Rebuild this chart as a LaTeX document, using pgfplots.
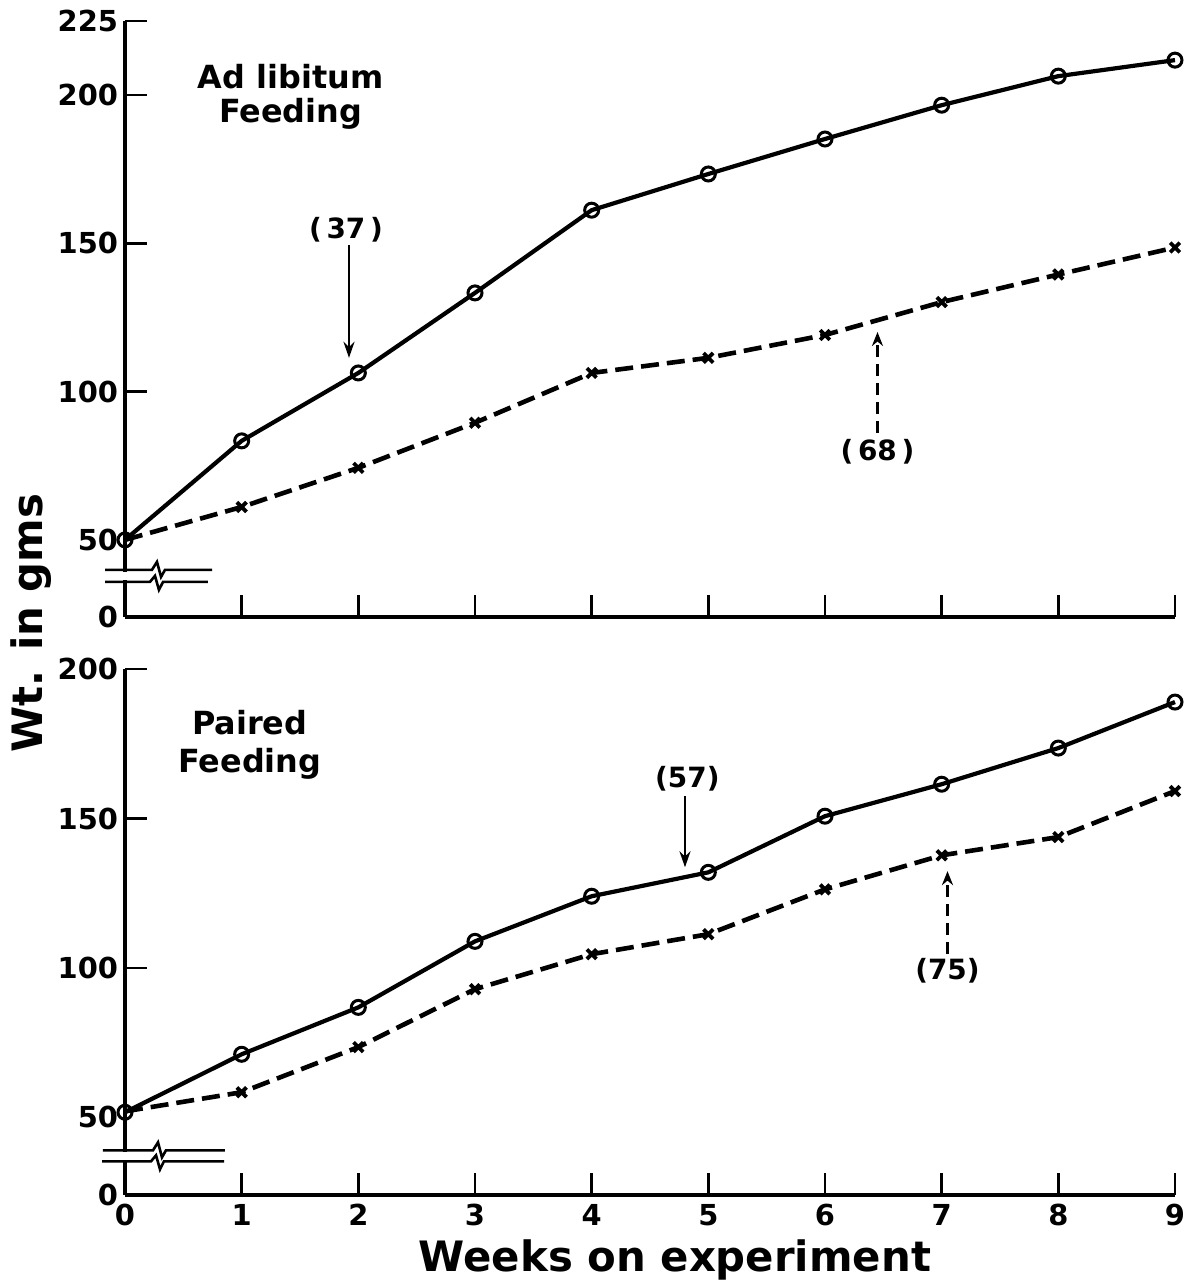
\documentclass[border=0pt]{standalone}
\usepackage{fontspec}
\setmainfont{DejaVu Sans}
\usepackage{pgfplots}
\pgfplotsset{compat=1.18}
\usetikzlibrary{arrows.meta}

\pgfplotsset{
  panel/.style={
    scale only axis, width=525bp, xmin=0, xmax=9,
    axis lines*=left,
    axis line style={line width=2bp},
    tick align=inside, major tick length=11bp,
    tick style={line width=1.3bp, black},
    every tick label/.append style={font=\bfseries\fontsize{14.5}{16}\selectfont},
    /pgf/number format/assume math mode=true,
    extra y tick style={major tick length=0pt},
    clip=false,
  },
  fed/.style={black, line width=2.1bp, mark=o, mark size=3.5bp,
    mark options={fill=white, line width=1.5bp, solid}},
  res/.style={black, line width=2.3bp, dash pattern=on 9bp off 4bp,
    mark=x, mark size=3.4bp, mark indices={2,...,10},
    mark options={line width=1.9bp, solid}},
}
\tikzset{brk/.style={line width=1.3bp}}
\newcommand{\lbl}{\bfseries\fontsize{14}{16}\selectfont}

\begin{document}
\begin{tikzpicture}
\path[use as bounding box] (-62.5bp,-43.5bp) rectangle (535bp,597.5bp);

% Ad libitum
\begin{axis}[panel, at={(0,289bp)}, anchor=south west,
  height=298bp, ymin=24, ymax=225,
  xtick={1,...,9}, xticklabels={,,,,,,,,,},
  ytick={100,150,200,225},
  extra y ticks={24,50}, extra y tick labels={0,50}]
\addplot[res] coordinates {(0,50) (1,61.1) (2,74.3) (3,89.5) (4,106.3)
  (5,111.4) (6,119.1) (7,130.2) (8,139.5) (9,148.6)};
\addplot[fed] coordinates {(0,50) (1,83.4) (2,106.3) (3,133.3) (4,161.2)
  (5,173.4) (6,185.2) (7,196.6) (8,206.4) (9,211.8)};
% axis break
\fill[white] (axis cs:-0.04,36.6) rectangle (axis cs:0.04,39.1);
\draw[brk] (axis cs:-0.171,39.89) -- (axis cs:0.231,39.89) -- (axis cs:0.274,42.59)
  -- (axis cs:0.309,37.53) -- (axis cs:0.343,39.89) -- (axis cs:0.746,39.89);
\draw[brk] (axis cs:-0.171,35.84) -- (axis cs:0.214,35.84) -- (axis cs:0.257,37.87)
  -- (axis cs:0.291,33.15) -- (axis cs:0.326,35.84) -- (axis cs:0.711,35.84);
\node[font=\bfseries\fontsize{16}{17}\selectfont, align=center]
  at (axis cs:1.42,199.3) {Ad libitum\\Feeding};
\node[font=\lbl] at (axis cs:1.894,154.5) {(\,37\,)};
\draw[line width=1.3bp, -{Stealth[length=8bp,width=5.5bp]}]
  (axis cs:1.92,149.4) -- (axis cs:1.92,111.4);
\node[font=\lbl] at (axis cs:6.45,79.8) {(\,68\,)};
\draw[line width=1.3bp, dash pattern=on 6bp off 3.5bp, -{Stealth[length=7bp,width=5.5bp]}]
  (axis cs:6.45,86) -- (axis cs:6.45,120.1);
\end{axis}

% Paired
\begin{axis}[panel, at={(0,0)}, anchor=south west,
  height=262.9bp, ymin=24, ymax=200,
  xtick={0,...,9},
  xticklabel style={yshift=-1bp},
  ytick={100,150,200},
  extra y ticks={24,50}, extra y tick labels={0,50}]
\addplot[res] coordinates {(0,52) (1,58.4) (2,73.5) (3,92.9) (4,104.6)
  (5,111.3) (6,126.3) (7,137.7) (8,143.8) (9,159.2)};
\addplot[fed] coordinates {(0,51.7) (1,71.1) (2,86.8) (3,108.9) (4,124)
  (5,132) (6,150.8) (7,161.5) (8,173.6) (9,189)};
\fill[white] (axis cs:-0.04,35.8) rectangle (axis cs:0.04,38.4);
\draw[brk] (axis cs:-0.189,38.95) -- (axis cs:0.240,38.95) -- (axis cs:0.283,41.63)
  -- (axis cs:0.317,36.61) -- (axis cs:0.351,38.95) -- (axis cs:0.857,38.95);
\draw[brk] (axis cs:-0.197,35.27) -- (axis cs:0.223,35.27) -- (axis cs:0.266,37.28)
  -- (axis cs:0.300,32.59) -- (axis cs:0.334,35.27) -- (axis cs:0.849,35.27);
\node[font=\bfseries\fontsize{16}{19}\selectfont, align=center]
  at (axis cs:1.07,174.6) {Paired\\Feeding};
\node[font=\lbl] at (axis cs:4.82,163.2) {(57)};
\draw[line width=1.3bp, -{Stealth[length=8bp,width=5.5bp]}]
  (axis cs:4.80,157.5) -- (axis cs:4.80,133.7);
\node[font=\lbl] at (axis cs:7.05,98.9) {(75)};
\draw[line width=1.3bp, dash pattern=on 6bp off 3.5bp, -{Stealth[length=7bp,width=5.5bp]}]
  (axis cs:7.05,104.8) -- (axis cs:7.05,132.4);
\end{axis}

\node[font=\bfseries\fontsize{21}{24}\selectfont] at (275bp,-32.5bp) {Weeks on experiment};
\node[font=\bfseries\fontsize{21}{24}\selectfont, rotate=90] at (-47bp,286bp) {Wt. in gms};
\end{tikzpicture}
\end{document}
